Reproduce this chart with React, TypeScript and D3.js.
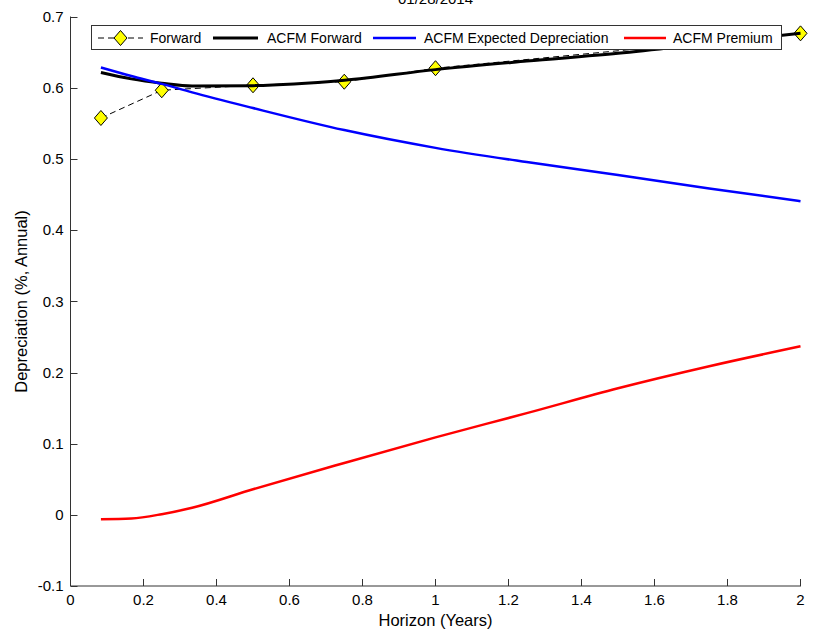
import React from "react";
import * as d3 from "d3";

const horizons = [1 / 12, 1 / 6, 0.25, 1 / 3, 0.5, 0.75, 1, 1.25, 1.5, 1.75, 2];
const acfmForward = [0.622, 0.613, 0.607, 0.603, 0.6035, 0.611, 0.626, 0.638, 0.649, 0.663, 0.677];
const acfmExpected = [0.629, 0.617, 0.606, 0.594, 0.572, 0.541, 0.516, 0.496, 0.478, 0.459, 0.441];
const acfmPremium = [-0.006, -0.005, 0.001, 0.01, 0.036, 0.073, 0.109, 0.143, 0.178, 0.209, 0.237];

const fwdHorizons = [1 / 12, 0.25, 0.5, 0.75, 1, 2];
const fwdValues = [0.558, 0.597, 0.604, 0.609, 0.628, 0.677];

const xTicks = [0, 0.2, 0.4, 0.6, 0.8, 1, 1.2, 1.4, 1.6, 1.8, 2];
const yTicks = [-0.1, 0, 0.1, 0.2, 0.3, 0.4, 0.5, 0.6, 0.7];

const title = "01/28/2014";
const xLabel = "Horizon (Years)";
const yLabel = "Depreciation (%, Annual)";

const W = 822;
const H = 632;
const L = 70.5, R = 800.5, T = 17, B = 586;
const FONT = "'Liberation Sans', Arial, Helvetica, sans-serif";

function diamond(cx: number, cy: number, hw = 6.5, hh = 7.5) {
  return `M${cx},${cy - hh}L${cx + hw},${cy}L${cx},${cy + hh}L${cx - hw},${cy}Z`;
}

export default function App() {
  const x = d3.scaleLinear().domain([0, 2]).range([L, R]);
  const y = d3.scaleLinear().domain([-0.1, 0.7]).range([B, T]);

  const line = (xs: number[], ys: number[], curve = d3.curveMonotoneX) =>
    d3
      .line<number>()
      .x((_, i) => x(xs[i]))
      .y((v) => y(v))
      .curve(curve)(ys) || "";

  const fwdPath = line(fwdHorizons, fwdValues, d3.curveLinear);
  const blackPath = line(horizons, acfmForward);
  const bluePath = line(horizons, acfmExpected);
  const redPath = line(horizons, acfmPremium);

  const legendY = 38;
  const legend = [
    { kind: "fwd", x1: 98, x2: 143, tx: 150, label: "Forward" },
    { kind: "line", color: "#000000", width: 3, x1: 213, x2: 258, tx: 267, label: "ACFM Forward" },
    { kind: "line", color: "#0000ff", width: 2.5, x1: 373, x2: 416, tx: 424, label: "ACFM Expected Depreciation" },
    { kind: "line", color: "#ff0000", width: 2.5, x1: 624, x2: 666, tx: 673, label: "ACFM Premium" },
  ];

  return (
    <svg
      width={W}
      height={H}
      style={{ position: "absolute", left: 0, top: 0, background: "#fff" }}
      fontFamily={FONT}
    >
      <rect x={0} y={0} width={W} height={H} fill="#fff" />
      {/* title */}
      <text x={(L + R) / 2} y={4} textAnchor="middle" fontSize={15} fill="#000">
        {title}
      </text>

      {/* axes */}
      <g stroke="#333" strokeWidth={1} fill="none">
        <line x1={L} y1={T - 0.5} x2={L} y2={B} />
        <line x1={L} y1={B} x2={R + 0.5} y2={B} />
        {xTicks.map((t) => (
          <line key={"xt" + t} x1={x(t)} x2={x(t)} y1={B} y2={B - 7} />
        ))}
        {yTicks.map((t) => (
          <line key={"yt" + t} x1={L} x2={L + 7} y1={Math.round(y(t)) + 0.5} y2={Math.round(y(t)) + 0.5} />
        ))}
      </g>
      <g fontSize={15} fill="#000">
        {xTicks.map((t) => (
          <text key={"xl" + t} x={x(t)} y={B + 19} textAnchor="middle">
            {String(t)}
          </text>
        ))}
        {yTicks.map((t) => (
          <text key={"yl" + t} x={L - 7} y={y(t) + 5} textAnchor="end">
            {String(t)}
          </text>
        ))}
      </g>
      <text x={(L + R) / 2} y={B + 40} textAnchor="middle" fontSize={16.5} fill="#000">
        {xLabel}
      </text>
      <text
        transform={`translate(27,${(T + B) / 2}) rotate(-90)`}
        textAnchor="middle"
        fontSize={16.5}
        fill="#000"
      >
        {yLabel}
      </text>

      {/* series */}
      <path d={fwdPath} fill="none" stroke="#000" strokeWidth={1} strokeDasharray="6,4" />
      {fwdHorizons.map((h, i) => (
        <path key={"d" + i} d={diamond(x(h), y(fwdValues[i]))} fill="#ffff00" stroke="#000" strokeWidth={1} />
      ))}
      <path d={blackPath} fill="none" stroke="#000" strokeWidth={3} strokeLinejoin="round" />
      <path d={bluePath} fill="none" stroke="#0000ff" strokeWidth={2.5} strokeLinejoin="round" />
      <path d={redPath} fill="none" stroke="#ff0000" strokeWidth={2.5} strokeLinejoin="round" />

      {/* legend */}
      <rect x={91.5} y={25.5} width={690} height={24} fill="#fff" stroke="#333" strokeWidth={1} />
      {legend.map((it) => (
        <g key={it.label}>
          {it.kind === "fwd" ? (
            <>
              <line x1={it.x1} x2={it.x2} y1={legendY} y2={legendY} stroke="#000" strokeWidth={1} strokeDasharray="6,4" />
              <path d={diamond((it.x1 + it.x2) / 2, legendY)} fill="#ffff00" stroke="#000" strokeWidth={1} />
            </>
          ) : (
            <line x1={it.x1} x2={it.x2} y1={legendY} y2={legendY} stroke={it.color} strokeWidth={it.width} />
          )}
          <text x={it.tx} y={legendY + 5} fontSize={14} fill="#000">
            {it.label}
          </text>
        </g>
      ))}
    </svg>
  );
}
